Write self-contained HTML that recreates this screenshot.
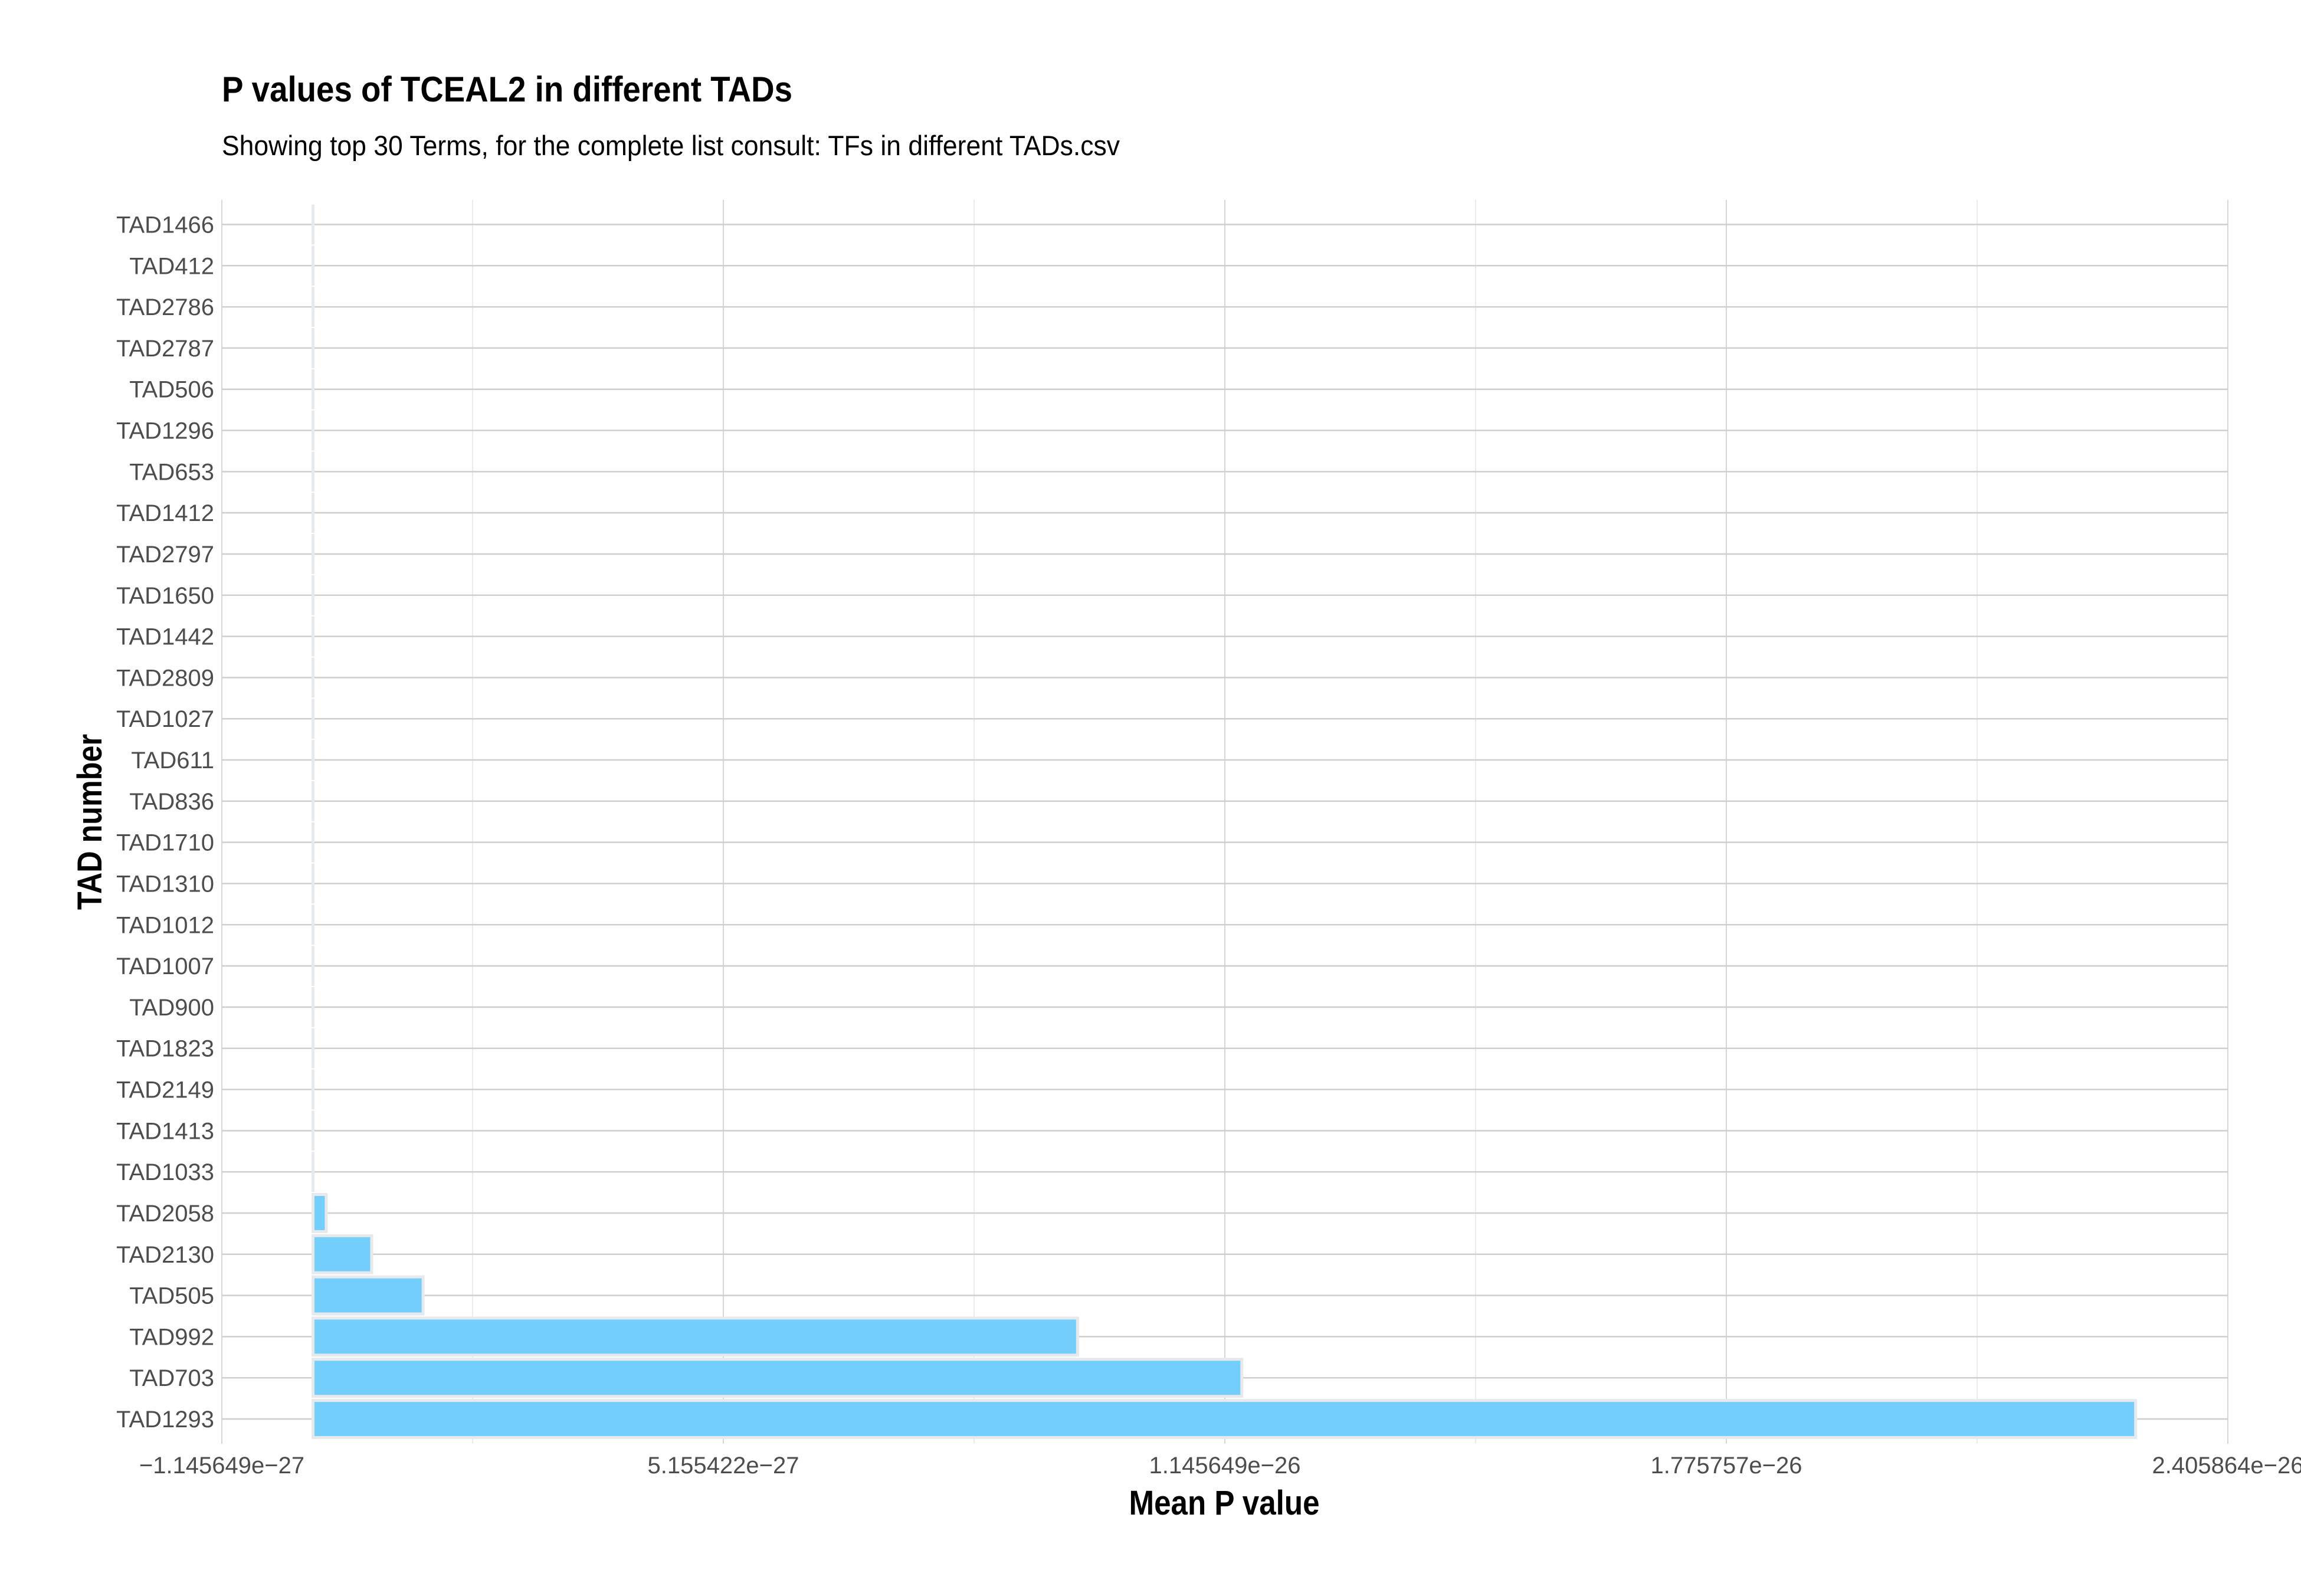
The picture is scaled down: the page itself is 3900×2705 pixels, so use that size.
<!DOCTYPE html>
<html><head><meta charset="utf-8"><style>
html,body{margin:0;padding:0;background:#fff}
svg text{font-family:"Liberation Sans Narrow","Liberation Sans",sans-serif}
</style></head><body>
<svg id="chart" width="3900" height="2700" xmlns="http://www.w3.org/2000/svg">
<rect width="3900" height="2700" fill="#fff"/>
<text x="376" y="172" font-size="60" font-weight="bold" fill="#000" textLength="967" lengthAdjust="spacingAndGlyphs">P values of TCEAL2 in different TADs</text>
<text x="376" y="263" font-size="47" fill="#000" textLength="1522" lengthAdjust="spacingAndGlyphs">Showing top 30 Terms, for the complete list consult: TFs in different TADs.csv</text>
<g id="grid"></g>
<g id="bars"></g>
<g id="ylabels"></g>
<g id="xlabels"></g>
<text x="2075" y="2567" font-size="58" font-weight="bold" fill="#000" text-anchor="middle" textLength="323" lengthAdjust="spacingAndGlyphs">Mean P value</text>
<text transform="translate(172,1393) rotate(-90)" font-size="58" font-weight="bold" fill="#000" text-anchor="middle" textLength="298" lengthAdjust="spacingAndGlyphs">TAD number</text>
</svg>
<script>
const categories = ["TAD1466","TAD412","TAD2786","TAD2787","TAD506","TAD1296","TAD653","TAD1412","TAD2797","TAD1650","TAD1442","TAD2809","TAD1027","TAD611","TAD836","TAD1710","TAD1310","TAD1012","TAD1007","TAD900","TAD1823","TAD2149","TAD1413","TAD1033","TAD2058","TAD2130","TAD505","TAD992","TAD703","TAD1293"];
const values = [1e-31,1e-31,1e-31,1e-31,1e-31,1e-31,1e-31,1e-31,1e-31,1e-31,1e-31,1e-31,1e-31,1e-31,1e-31,1e-31,1e-31,1e-31,1e-31,1e-31,1e-31,1e-31,1e-31,2e-31,1.66e-28,7.37e-28,1.383e-27,9.606e-27,1.167e-26,2.290e-26];
const tickValues = [-1.145649e-27,5.155422e-27,1.145649e-26,1.775757e-26,2.405864e-26];
const tickLabels = ["\u22121.145649e\u221227","5.155422e\u221227","1.145649e\u221226","1.775757e\u221226","2.405864e\u221226"];

const NS="http://www.w3.org/2000/svg";
const xMin=-1.145649e-27, xMax=2.405864e-26, pxL=376, pxR=3776;
const x=v=>pxL+(v-xMin)/(xMax-xMin)*(pxR-pxL);
const yTop=380.5, step=(2405-380.5)/29;
const y=i=>yTop+i*step;
const panelTop=y(0)-0.6*step, panelBot=y(29)+0.6*step;
function mk(tag,attrs,parent){const e=document.createElementNS(NS,tag);for(const k in attrs)e.setAttribute(k,attrs[k]);parent.appendChild(e);return e;}
const grid=document.getElementById('grid'),bars=document.getElementById('bars'),yl=document.getElementById('ylabels'),xl=document.getElementById('xlabels');
for(let i=0;i<tickValues.length-1;i++){
  const mv=(tickValues[i]+tickValues[i+1])/2;
  const l=mk('line',{x1:x(mv),x2:x(mv),y1:panelTop,y2:panelBot,stroke:'#ebebeb','stroke-width':2},grid);
  
  
}
tickValues.forEach((v,i)=>{
  const l=mk('line',{x1:x(v),x2:x(v),y1:panelTop,y2:panelBot,stroke:'#d6d6d6','stroke-width':2},grid);
  
  
  const t=mk('text',{x:x(v),y:2497,'font-size':40,fill:'#4d4d4d','text-anchor':'middle'},xl);
  t.textContent=tickLabels[i];
  
  
});
categories.forEach((c,i)=>{
  const l=mk('line',{x1:pxL,x2:pxR,y1:y(i),y2:y(i),stroke:'#cfcfcf','stroke-width':2.5},grid);
  
  
  const t=mk('text',{x:363,y:y(i)+14,'font-size':40,fill:'#4d4d4d','text-anchor':'end'},yl);
  t.textContent=c;
  
  
  const h=step*0.9, x0=x(0), x1=x(values[i]);
  const r=mk('rect',{x:x0,y:y(i)-h/2,width:Math.max(0,x1-x0),height:h,fill:'#74cefc',stroke:'#e6eaed','stroke-width':5},bars);
  
  
});
</script>
</body></html>
